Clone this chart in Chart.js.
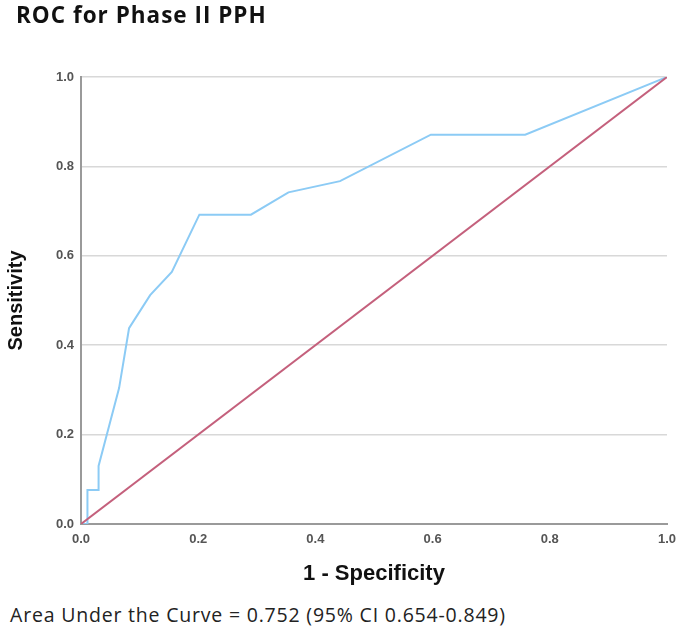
<!DOCTYPE html>
<html>
<head>
<meta charset="utf-8">
<script src="https://cdn.jsdelivr.net/npm/chart.js@4/dist/chart.umd.min.js"></script>
<style>
  html,body{margin:0;padding:0;background:#fff;}
  #wrap{position:relative;width:685px;height:634px;overflow:hidden;}
  #title{position:absolute;left:16px;top:4px;line-height:1;font-family:"Open Sans",sans-serif;font-weight:bold;font-size:22.5px;letter-spacing:1px;color:#111;white-space:nowrap;}
  #cap{position:absolute;left:10px;top:605px;line-height:1;font-family:"Open Sans",sans-serif;font-size:19.5px;letter-spacing:0.8px;color:#222;white-space:nowrap;}
  #c{position:absolute;left:0;top:0;}
</style>
</head>
<body>
<div id="wrap">
  <canvas id="c" width="685" height="600"></canvas>
  <div id="title">ROC for Phase II PPH</div>
  <div id="cap">Area Under the Curve = 0.752 (95% CI 0.654-0.849)</div>
</div>
<script>
// ROC curve points (1 - Specificity, Sensitivity)
const fpr = [0, 0.011, 0.011, 0.030, 0.030, 0.065, 0.082, 0.118, 0.155, 0.202, 0.290, 0.354, 0.442, 0.597, 0.758, 1.0];
const tpr = [0, 0.000, 0.076, 0.076, 0.130, 0.304, 0.438, 0.512, 0.564, 0.692, 0.692, 0.742, 0.767, 0.871, 0.871, 1.0];
// Reference (chance) line
const refX = [0, 1];
const refY = [0, 1];
const tickValues = [0, 0.2, 0.4, 0.6, 0.8, 1.0];

const rocData = fpr.map((x, i) => ({x: x, y: tpr[i]}));
const refData = refX.map((x, i) => ({x: x, y: refY[i]}));

new Chart(document.getElementById('c'), {
  type: 'scatter',
  data: {
    datasets: [
      {data: refData, showLine: true, borderColor: '#c4607c', borderWidth: 2, pointRadius: 0, tension: 0},
      {data: rocData, showLine: true, borderColor: '#8ccbf5', borderWidth: 2, pointRadius: 0, tension: 0}
    ]
  },
  options: {
    responsive: false,
    animation: false,
    layout: {padding: {left: 0, right: 18, top: 77, bottom: 0}},
    plugins: {legend: {display: false}, tooltip: {enabled: false}, title: {display: false}},
    scales: {
      x: {
        type: 'linear', min: 0, max: 1,
        afterBuildTicks: s => { s.ticks = tickValues.map(v => ({value: v})); },
        afterFit: s => { s.height = 76; },
        grid: {display: false, drawTicks: false},
        border: {display: true, color: '#9a9a9a', width: 2},
        ticks: {padding: 8, color: '#555', font: {family: 'Liberation Sans', size: 13, weight: 'bold'}, callback: v => v.toFixed(1), maxRotation: 0},
        title: {display: true, text: '1 - Specificity', color: '#111', font: {family: 'Liberation Sans', size: 22, weight: 'bold'}, padding: {top: 4, bottom: 13}}
      },
      y: {
        type: 'linear', min: 0, max: 1,
        afterBuildTicks: s => { s.ticks = tickValues.map(v => ({value: v})); },
        afterFit: s => { s.width = 81; },
        grid: {display: true, color: '#d8d8d8', lineWidth: 1.5, drawTicks: false},
        border: {display: true, color: '#9a9a9a', width: 2},
        ticks: {padding: 7, color: '#555', font: {family: 'Liberation Sans', size: 13, weight: 'bold'}, callback: v => v.toFixed(1)},
        title: {display: true, text: 'Sensitivity', color: '#111', font: {family: 'Liberation Sans', size: 20, weight: 'bold'}, padding: {top: 4, bottom: 0}}
      }
    }
  }
});
</script>
</body>
</html>
